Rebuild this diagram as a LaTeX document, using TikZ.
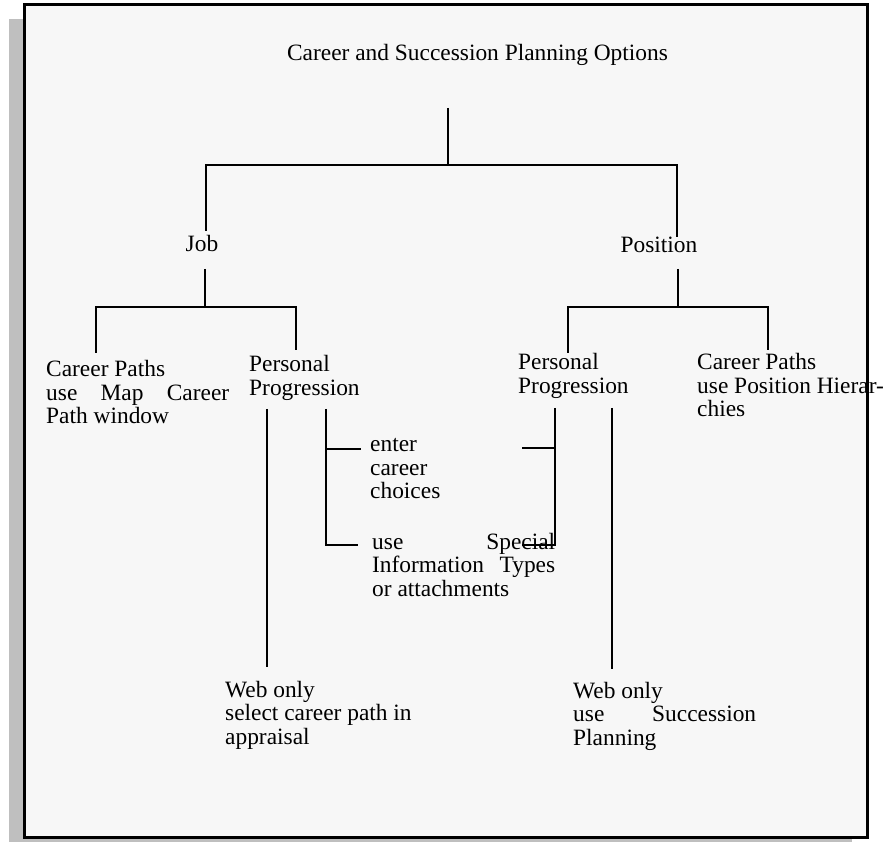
\documentclass[tikz,border=0pt]{standalone}
\usepackage{fontspec}
\setmainfont{Liberation Serif}
% a line set flush to both margins of its column
\newcommand{\justline}[1]{\makebox[\linewidth][s]{#1}}
\begin{document}
\begin{tikzpicture}[x=1pt,y=-1pt,
  txt/.style={inner sep=0pt, font=\fontsize{23.4}{23.5}\selectfont},
  block/.style={txt, anchor=base west},
  link/.style={line width=2.9pt, line cap=butt, line join=miter},
  frame/.style={line width=3pt, draw=black}]
\useasboundingbox (0,0) rectangle (887,842);

% drop shadow and panel
\fill[gray!50] (9,19) rectangle (852,842);
\fill[black!3] (24,5) rectangle (867,837);

% headings
\node[txt, anchor=base] (title) at (477.5,61) {Career and Succession Planning Options};
\node[txt, anchor=base] (job) at (202,252) {Job};
\node[txt, anchor=base] (pos) at (659,253) {Position};

% job branch
\node[block] (jcp) at (46,377) {\parbox[t]{183pt}{Career Paths\\
  \justline{use Map Career}\\ Path window}};
\node[block] (jpp) at (249,372) {\parbox[t]{183pt}{Personal\\ Progression}};
\node[block] (enter) at (370,452) {\parbox[t]{183pt}{enter\\ career\\ choices}};
\node[block] (sit) at (372,549) {\parbox[t]{183pt}{\justline{use Special}\\
  \justline{Information Types}\\ or attachments}};
\node[block] (jweb) at (225,697) {\parbox[t]{200pt}{Web only\\
  select career path in\\ appraisal}};

% position branch
\node[block] (ppp) at (518,370) {\parbox[t]{183pt}{Personal\\ Progression}};
\node[block] (pcp) at (697,370) {\parbox[t]{200pt}{Career Paths\\
  use Position Hierar-\\ chies}};
\node[block] (pweb) at (573,698) {\parbox[t]{183pt}{Web only\\
  \justline{use Succession}\\ Planning}};

% junction points of the tree
\coordinate (rootTop) at (448,108);
\coordinate (rootBar) at (448,165);
\coordinate (jobTop) at (206,231);
\coordinate (posTop) at (677,237);
\coordinate (jobStem) at (205,269);
\coordinate (jobBar) at (205,307);
\coordinate (posStem) at (678,269);
\coordinate (posBar) at (678,307);

\draw[link] (rootTop) -- (rootBar);
\draw[link] (jobTop) -- (jobTop |- rootBar) -- (posTop |- rootBar) -- (posTop);

\draw[link] (jobStem) -- (jobBar);
\draw[link] (96,353) -- (96,307) -- (296,307) -- (296,350);
\draw[link] (posStem) -- (posBar);
\draw[link] (568,353) -- (568,307) -- (768,307) -- (768,350);

% personal progression (job)
\coordinate (jwebLine) at (267,409);
\coordinate (jwebEnd) at (267,667);
\draw[link] (jwebLine) -- (jwebEnd);
\coordinate (jppTop) at (326,409);
\coordinate (jppBot) at (326,545);
\draw[link] (jppTop) -- (jppBot) -- (358,545);
\draw[link] (326,449) -- (361,449);

% personal progression (position)
\coordinate (pppTop) at (555,408);
\coordinate (pppBot) at (555,545);
\draw[link] (pppTop) -- (pppBot) -- (522,545);
\draw[link] (555,448) -- (522,448);
\coordinate (pwebLine) at (612,408);
\coordinate (pwebEnd) at (612,669);
\draw[link] (pwebLine) -- (pwebEnd);

% panel outline
\draw[frame] (24,5) rectangle (867,837);
\end{tikzpicture}
\end{document}
